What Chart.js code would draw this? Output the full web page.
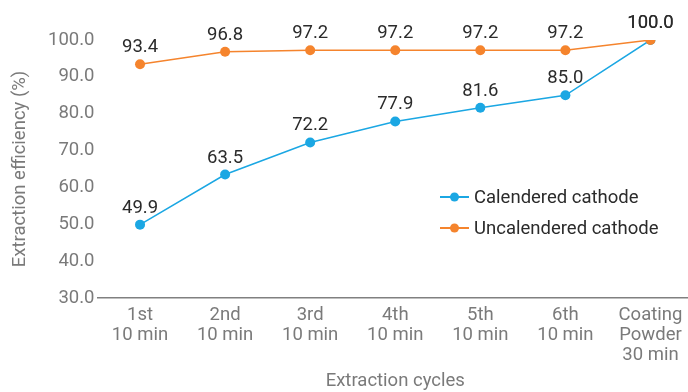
<!DOCTYPE html>
<html>
<head>
<meta charset="utf-8">
<script src="https://cdn.jsdelivr.net/npm/chart.js@4/dist/chart.umd.min.js"></script>
<style>
  html, body { margin: 0; padding: 0; background: #ffffff; overflow: hidden; }
  #wrap { width: 698px; height: 392px; position: relative; }
</style>
</head>
<body>
<div id="wrap"><canvas id="c" width="698" height="392"></canvas></div>
<script>
// Extraction cycles and efficiencies (%)
const cycles = [
  ["1st", "10 min"],
  ["2nd", "10 min"],
  ["3rd", "10 min"],
  ["4th", "10 min"],
  ["5th", "10 min"],
  ["6th", "10 min"],
  ["Coating", "Powder", "30 min"]
];
const calendered = [49.9, 63.5, 72.2, 77.9, 81.6, 85.0, 100.0];
const uncalendered = [93.4, 96.8, 97.2, 97.2, 97.2, 97.2, 100.0];
const seriesNames = ["Calendered cathode", "Uncalendered cathode"];

const BLUE = "#1ba7e3";
const ORANGE = "#f5842d";
const FONT = "Roboto, 'Noto Sans', sans-serif";
const SIZE = 18.5;

// value labels above every point
const valueLabels = {
  id: "valueLabels",
  afterDatasetsDraw(chart) {
    const ctx = chart.ctx;
    ctx.save();
    ctx.font = SIZE + "px " + FONT;
    ctx.fillStyle = "#2b2b2b";
    ctx.textAlign = "center";
    ctx.textBaseline = "alphabetic";
    chart.data.datasets.forEach((ds, i) => {
      chart.getDatasetMeta(i).data.forEach((pt, j) => {
        ctx.fillText(ds.data[j].toFixed(1), pt.x, pt.y - 12);
      });
    });
    ctx.restore();
  }
};

// legend drawn inside the plot area, lower right
const innerLegend = {
  id: "innerLegend",
  afterDraw(chart) {
    const ctx = chart.ctx;
    ctx.save();
    ctx.font = SIZE + "px " + FONT;
    ctx.textBaseline = "middle";
    const x0 = 440, y0 = 197, gap = 31;
    chart.data.datasets.forEach((ds, i) => {
      const y = y0 + i * gap;
      ctx.strokeStyle = ds.borderColor;
      ctx.lineWidth = 2;
      ctx.beginPath();
      ctx.moveTo(x0, y);
      ctx.lineTo(x0 + 29, y);
      ctx.stroke();
      ctx.fillStyle = ds.borderColor;
      ctx.beginPath();
      ctx.arc(x0 + 14.5, y, 4.5, 0, Math.PI * 2);
      ctx.fill();
      ctx.fillStyle = "#2b2b2b";
      ctx.fillText(ds.label, x0 + 34, y + 1);
    });
    ctx.restore();
  }
};

new Chart(document.getElementById("c"), {
  type: "line",
  data: {
    labels: cycles,
    datasets: [
      {
        label: seriesNames[0],
        data: calendered,
        borderColor: BLUE,
        backgroundColor: BLUE,
        borderWidth: 1.5,
        pointRadius: 5,
        pointBorderWidth: 0,
        tension: 0,
        order: 1
      },
      {
        label: seriesNames[1],
        data: uncalendered,
        borderColor: ORANGE,
        backgroundColor: ORANGE,
        borderWidth: 1.5,
        pointRadius: 5,
        pointBorderWidth: 0,
        tension: 0,
        order: 0
      }
    ]
  },
  options: {
    responsive: false,
    animation: false,
    layout: { padding: { top: 40, right: 0, left: 0, bottom: 0 } },
    plugins: {
      legend: { display: false },
      tooltip: { enabled: false }
    },
    scales: {
      x: {
        offset: true,
        grid: { display: false, drawTicks: false },
        border: { display: true, color: "#808080", width: 1.5 },
        ticks: {
          color: "#7a7a7a",
          font: { family: FONT, size: SIZE, lineHeight: 1.08 },
          padding: 7,
          maxRotation: 0,
          autoSkip: false
        },
        title: {
          display: true,
          text: "Extraction cycles",
          color: "#7a7a7a",
          font: { family: FONT, size: SIZE },
          padding: { top: 2, bottom: 0 }
        },
        afterFit(scale) { scale.height = 94; }
      },
      y: {
        min: 30,
        max: 100,
        grid: { display: false, drawTicks: false },
        border: { display: false },
        ticks: {
          stepSize: 10,
          color: "#7a7a7a",
          font: { family: FONT, size: SIZE },
          padding: 3,
          callback: v => v.toFixed(1)
        },
        title: {
          display: true,
          text: "Extraction efficiency (%)",
          color: "#7a7a7a",
          font: { family: FONT, size: SIZE },
          padding: { top: 9, bottom: 4 }
        },
        afterFit(scale) { scale.width = 97.5; }
      }
    }
  },
  plugins: [valueLabels, innerLegend]
});
</script>
</body>
</html>
